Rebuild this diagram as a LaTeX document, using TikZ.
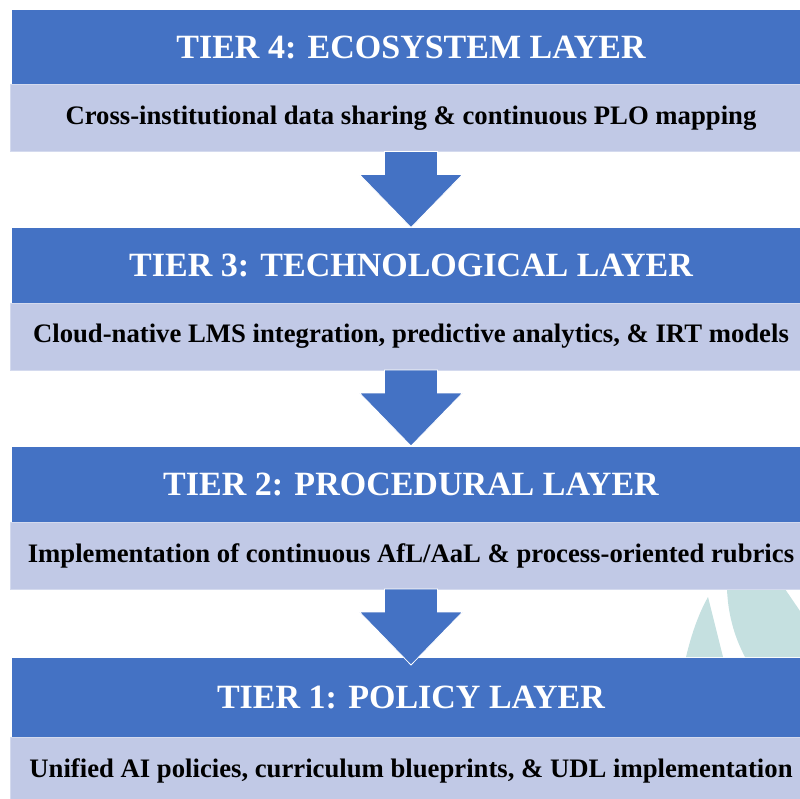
\documentclass[tikz,border=0pt]{standalone}
\usepackage{fontspec}
\setmainfont{Liberation Serif}
\usetikzlibrary{positioning,calc}

\definecolor{tierblue}{RGB}{68,114,196}
\definecolor{tierlav}{RGB}{193,201,230}
\definecolor{tierline}{RGB}{212,218,238}
\definecolor{sailteal}{RGB}{197,224,224}

% block arrow hanging under a detail bar, tip aimed at the next header
\newcommand\tierarrow[2]{%
  \path[blockarrow] ($(#1.south)+(-26.5,0)$) -- ++(0,23) -- ++(-25,0)
    -- ($(#1.south -| #2.north)+(0,76)$)
    -- ($(#1.south)+(51.5,23)$) -- ++(-25,0) -- ++(0,-23) -- cycle;}

\begin{document}
\begin{tikzpicture}[x=1pt,y=-1pt,
  header/.style={fill=tierblue,text=white,outer sep=0pt,inner sep=0pt,
    minimum width=798pt,minimum height=75pt,
    font=\fontsize{34}{40}\selectfont\bfseries},
  detail/.style={fill=tierlav,draw=tierline,line width=1pt,outer sep=0pt,
    inner sep=0pt,minimum width=802pt,minimum height=67pt,
    font=\fontsize{26.7}{31}\selectfont\bfseries},
  blockarrow/.style={fill=tierblue,draw=white,line width=0.8pt}]
\useasboundingbox (0,0) rectangle (800,798);
\clip (0,0) rectangle (800,798);

% sails in the gap above tier 1
\fill[sailteal] (686,657) .. controls (692,632) and (699,613) .. (708,597) -- (723,657) -- cycle;
\fill[sailteal] (727,589) -- (785,589) -- (800,611) -- (800,657) -- (745,657)
  .. controls (734,636) and (728,614) .. (727,589) -- cycle;

% the four tiers
\node[header] (t4) at (411,47) {TIER 4: ECOSYSTEM LAYER};
\node[detail,below=0pt of t4] (d4) {Cross-institutional data sharing \& continuous PLO mapping};

\node[header] (t3) at (411,265.5) {TIER 3: TECHNOLOGICAL LAYER};
\node[detail,below=0pt of t3] (d3) {Cloud-native LMS integration, predictive analytics, \& IRT models};

\node[header] (t2) at (411,484.5) {TIER 2: PROCEDURAL LAYER};
\node[detail,below=0pt of t2] (d2) {Implementation of continuous AfL/AaL \& process-oriented rubrics};

\node[header,minimum height=79pt] (t1) at (411,697.5) {TIER 1: POLICY LAYER};
\node[detail,below=0pt of t1] (d1) {Unified AI policies, curriculum blueprints, \& UDL implementation};

% arrows between tiers
\tierarrow{d4}{t3}
\tierarrow{d3}{t2}
\tierarrow{d2}{t1}
\end{tikzpicture}
\end{document}
